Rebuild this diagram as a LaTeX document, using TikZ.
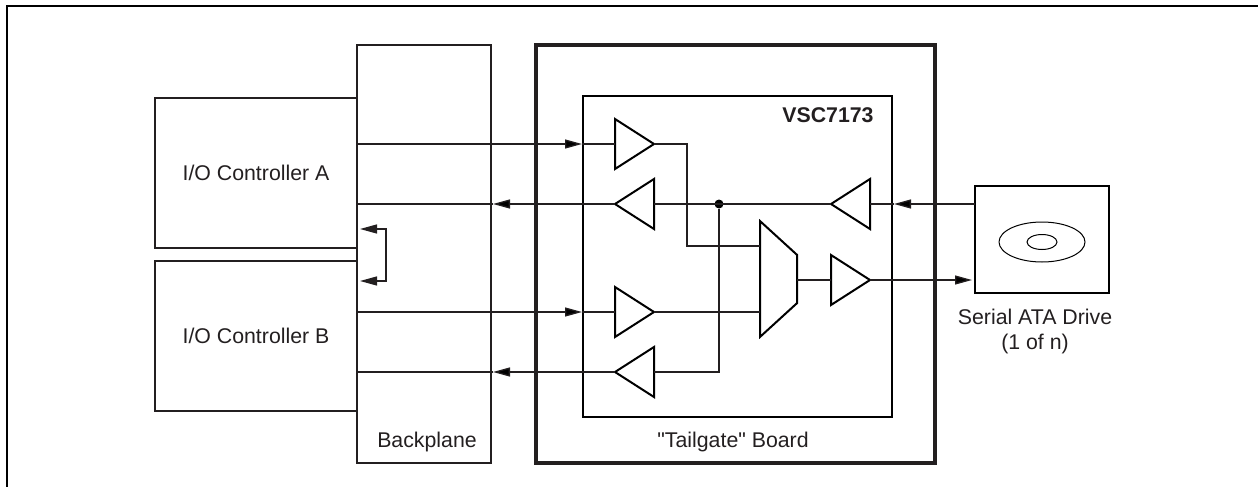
\documentclass[tikz,border=0pt]{standalone}
\usepackage{fontspec}
\setmainfont{Liberation Sans}
\newfontfamily\plainq{Liberation Sans}
\usetikzlibrary{shapes.geometric,arrows.meta}
\definecolor{inkgray}{HTML}{231F20}

\begin{document}
\begin{tikzpicture}[x=0.5pt,y=-0.5pt,>={Triangle[length=8.5pt,width=4.5pt]},
		every node/.style={text=inkgray,font=\fontsize{10.65}{12.5}\selectfont},
		wire/.style={draw=inkgray,line width=0.65pt},
		blockbox/.style={draw=inkgray,line width=1.2pt,inner sep=0pt,outer sep=0pt},
		board/.style={blockbox,line width=1.8pt},
		buf/.style={isosceles triangle,isosceles triangle stretches,draw=black,line width=1pt,inner sep=0pt,outer sep=0pt,minimum width=25pt,minimum height=19.5pt},
		bufr/.style={buf,anchor=apex},
		bufl/.style={buf,shape border rotate=180,anchor=apex},
		dot/.style={circle,fill=black,inner sep=0pt,minimum size=4.5pt}]
		% frame, open at the bottom and right
		\coordinate (fa) at (7,487);
		\coordinate (fb) at (7,6);
		\coordinate (fc) at (1258,6);
		\useasboundingbox (0,0) rectangle (1258,487);
		\draw[blockbox,draw=black] (fa) -- (fb) -- (fc);

		% boxes
		\node[blockbox,minimum width=101pt,minimum height=75pt,anchor=north west] (ctrla) at (155,98) {\raisebox{-1.5pt}{I/O Controller A}};
		\node[blockbox,minimum width=101pt,minimum height=75pt,anchor=north west] (ctrlb) at (155,261) {\raisebox{-0.5pt}{I/O Controller B}};
		\node[blockbox,minimum width=67pt,minimum height=209pt,anchor=north west] (back) at (357,45) {};
		\node[board,minimum width=199.5pt,minimum height=209pt,anchor=north west] (tail) at (536,45) {};
		\node[blockbox,draw=black,minimum width=154.5pt,minimum height=160.5pt,anchor=north west] (chip) at (583,96) {};
		\node[blockbox,draw=black,line width=1.4pt,minimum width=67pt,minimum height=53.5pt,anchor=north west] (drive) at (975,186) {};
		\node (backlbl) at (427,442) {Backplane};
		\node (taillbl) at (733,442) {\plainq "Tailgate" Board};
		\node[font=\fontsize{10.65}{12.5}\selectfont\bfseries] (chiplbl) at (828,115) {VSC7173};
		\node[align=center] (drivelbl) at (1035,331) {Serial ATA Drive\\(1 of n)};

		% disc
		\node[ellipse,draw=black,line width=0.5pt,minimum width=43pt,minimum height=20pt,inner sep=0pt] (disc) at (1042,242) {};
		\node[ellipse,draw=black,line width=0.5pt,minimum width=15pt,minimum height=7.5pt,inner sep=0pt] (hub) at (1042,242) {};

		% buffers
		\node[bufr] (bufa) at (654,144) {};
		\node[bufl] (bufb) at (615,204) {};
		\node[bufr] (bufc) at (654,312) {};
		\node[bufl] (bufd) at (615,372) {};
		\node[bufl] (bufe) at (831,204) {};
		\node[bufr] (buff) at (870,280) {};
		\node[trapezium,trapezium stretches,rotate=-90,trapezium left angle=56.5,trapezium right angle=56.5,draw=black,line width=1pt,inner sep=0pt,outer sep=0pt,minimum width=58pt,minimum height=18.5pt] (mux) at (778.5,279) {\phantom{x}};
		\node[dot] (join) at (719,204) {};

		% points where the arrow tips sit on a wire
		\coordinate (tipa) at (582,144);
		\coordinate (tipb) at (493,204);
		\coordinate (tipc) at (582,312);
		\coordinate (tipd) at (493,372);
		\coordinate (tipe) at (894,204);
		\coordinate (tipf) at (972,280);
		\coordinate (muxa) at (760,246);
		\coordinate (loopa) at (360,229);
		\coordinate (loopb) at (360,281);

		% connectors
		\path[wire]
		(ctrla.east |- tipa) edge[->] (tipa)
		(tipa) edge (bufa.west |- tipa)
		(bufb.apex) edge[->] (tipb)
		(tipb) edge (ctrla.east |- tipb)
		(ctrlb.east |- tipc) edge[->] (tipc)
		(tipc) edge (bufc.west |- tipc)
		(bufd.apex) edge[->] (tipd)
		(tipd) edge (ctrlb.east |- tipd)
		(drive.west |- tipe) edge[->] (tipe)
		(tipe) edge (bufe.east |- tipe)
		(buff.apex) edge[->] (tipf)
		(bufe.apex) edge (bufb.east |- bufe.apex)
		(bufc.apex) edge (muxa |- bufc.apex)
		(mux.north |- buff.west) edge (buff.west);
		\draw[wire] (bufa.apex) -- ++(33,0) |- (muxa);
		\draw[wire] (join) |- (bufd.east);
		\draw[wire,<->] (loopa) -- ++(26,0) |- (loopb);
		\end{tikzpicture}
\end{document}
